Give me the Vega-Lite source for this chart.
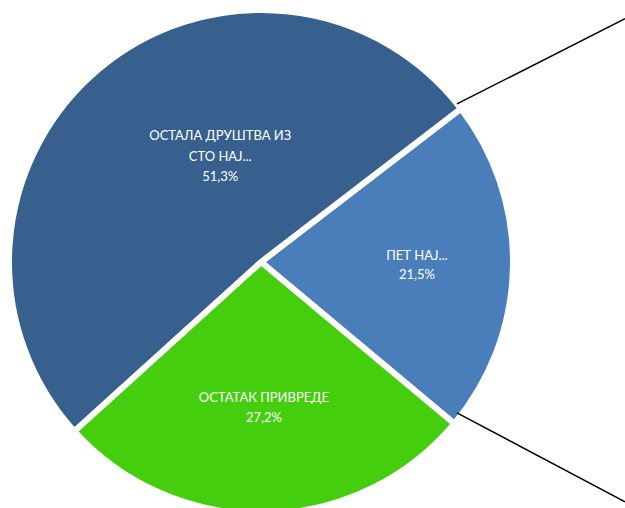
{
  "$schema": "https://vega.github.io/schema/vega-lite/v6.json",
  "autosize": "none",
  "width": 522,
  "height": 492,
  "padding": {"left": 0, "top": 16, "right": 103, "bottom": 0},
  "background": "white",
  "config": {"view": {"stroke": null}},
  "datasets": {
    "slices": [
      {"segment": "ПЕТ НАЈ...", "value": 21.5, "order": 1, "label": "ПЕТ НАЈ...\n21,5%"},
      {"segment": "ОСТАТАК ПРИВРЕДЕ", "value": 27.2, "order": 2, "label": "ОСТАТАК ПРИВРЕДЕ\n27,2%"},
      {"segment": "ОСТАЛА ДРУШТВА ИЗ СТО НАЈ...", "value": 51.3, "order": 3, "label": "ОСТАЛА ДРУШТВА ИЗ\nСТО НАЈ...\n51,3%"}
    ],
    "connectors": [
      {"line": "top", "px": 0.787, "py": 0.635, "step": 0},
      {"line": "top", "px": 1.462, "py": 0.977, "step": 1},
      {"line": "bottom", "px": 0.787, "py": -0.606, "step": 0},
      {"line": "bottom", "px": 1.462, "py": -0.963, "step": 1}
    ]
  },
  "layer": [
    {
      "data": {"name": "slices"},
      "mark": {"type": "arc", "outerRadius": 252, "stroke": "white", "strokeWidth": 6},
      "encoding": {
        "theta": {"field": "value", "type": "quantitative", "stack": true, "scale": {"range": [0.9163, 7.1995]}},
        "order": {"field": "order", "type": "quantitative"},
        "color": {"field": "segment", "type": "nominal", "legend": null,
          "scale": {"domain": ["ПЕТ НАЈ...", "ОСТАТАК ПРИВРЕДЕ", "ОСТАЛА ДРУШТВА ИЗ СТО НАЈ..."], "range": ["#4A7EBB", "#44CE0E", "#37608F"]}}
      }
    },
    {
      "data": {"name": "slices"},
      "mark": {"type": "text", "radius": 156, "dy": -9.5, "fill": "white", "font": "Lato", "fontSize": 13, "lineBreak": "\n", "lineHeight": 19, "align": "center", "baseline": "middle"},
      "encoding": {
        "theta": {"field": "value", "type": "quantitative", "stack": true, "scale": {"range": [0.9163, 7.1995]}},
        "order": {"field": "order", "type": "quantitative"},
        "text": {"condition": {"test": "datum.order === 1", "field": "label"}, "value": ""}
      }
    },
    {
      "data": {"name": "slices"},
      "mark": {"type": "text", "radius": 146, "dy": -10, "fill": "white", "font": "Lato", "fontSize": 13, "lineBreak": "\n", "lineHeight": 20, "align": "center", "baseline": "middle"},
      "encoding": {
        "theta": {"field": "value", "type": "quantitative", "stack": true, "scale": {"range": [0.9163, 7.1995]}},
        "order": {"field": "order", "type": "quantitative"},
        "text": {"condition": {"test": "datum.order === 2", "field": "label"}, "value": ""}
      }
    },
    {
      "data": {"name": "slices"},
      "mark": {"type": "text", "radius": 113, "thetaOffset": 0.326, "dy": -20.5, "fill": "white", "font": "Lato", "fontSize": 13, "lineBreak": "\n", "lineHeight": 20.5, "align": "center", "baseline": "middle"},
      "encoding": {
        "theta": {"field": "value", "type": "quantitative", "stack": true, "scale": {"range": [0.9163, 7.1995]}},
        "order": {"field": "order", "type": "quantitative"},
        "text": {"condition": {"test": "datum.order === 3", "field": "label"}, "value": ""}
      }
    },
    {
      "data": {"name": "connectors"},
      "mark": {"type": "line", "stroke": "black", "strokeWidth": 1.5, "clip": false},
      "encoding": {
        "x": {"field": "px", "type": "quantitative", "axis": null, "scale": {"domain": [-1.0482, 1.0482], "nice": false, "zero": false}},
        "y": {"field": "py", "type": "quantitative", "axis": null, "scale": {"domain": [-0.988, 0.988], "nice": false, "zero": false}},
        "detail": {"field": "line", "type": "nominal"},
        "order": {"field": "step", "type": "quantitative"}
      }
    }
  ]
}
